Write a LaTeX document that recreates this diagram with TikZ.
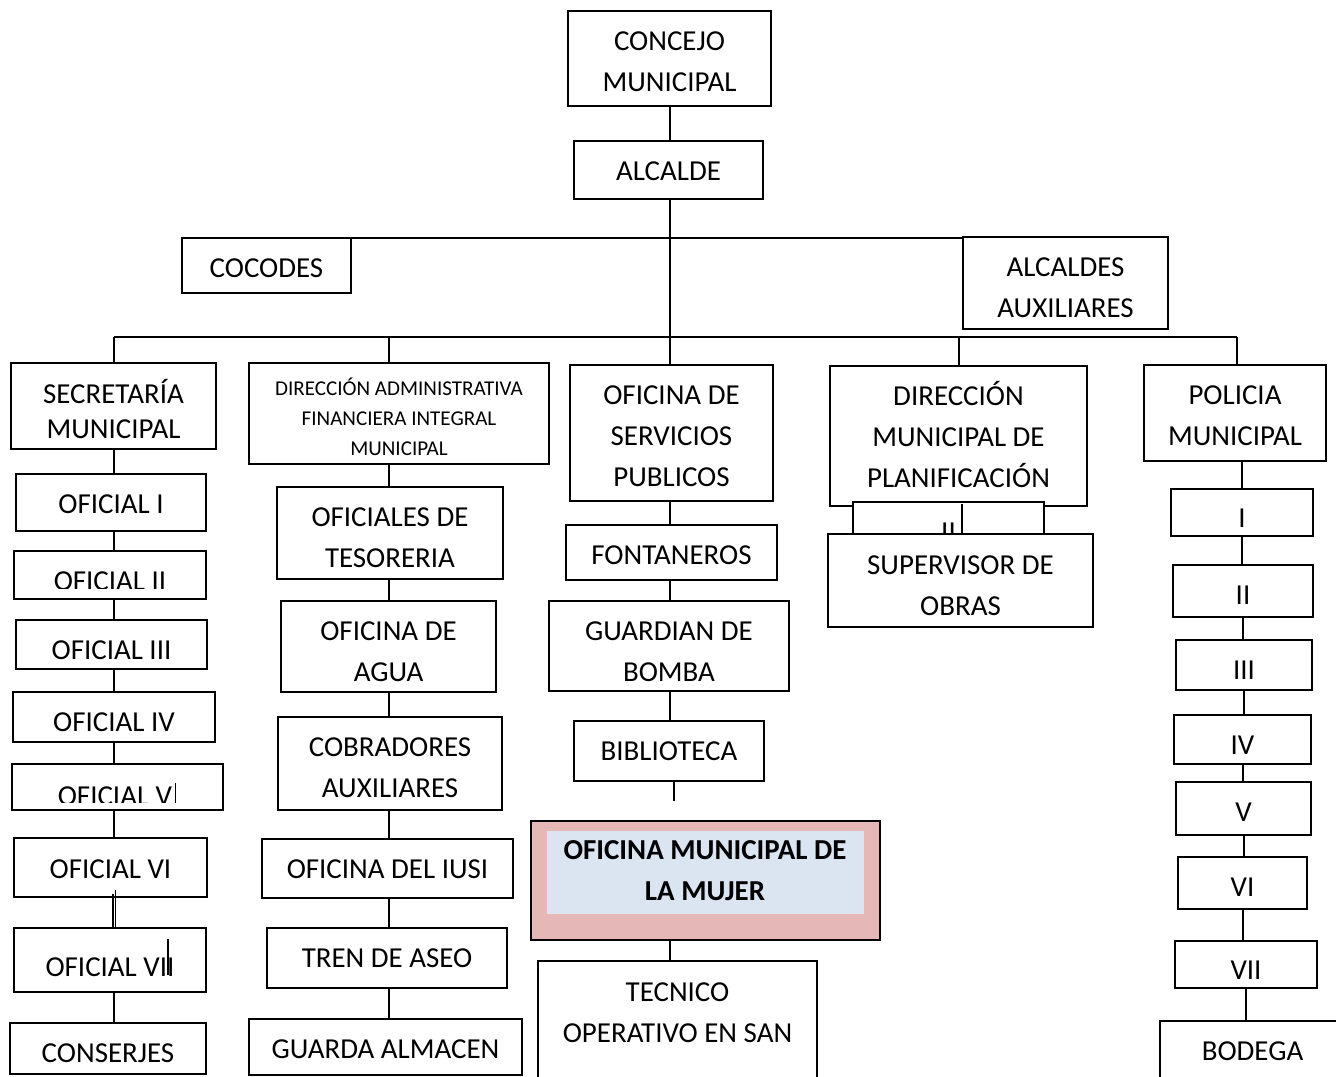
\documentclass[tikz,border=0pt]{standalone}
\usepackage{fontspec}
\setmainfont{Carlito}
\definecolor{pinkc}{HTML}{E5B8B7}
\definecolor{bluec}{HTML}{DBE5F1}
\newcommand\bx[8][]{%
  \node[box,#1,minimum width={(#5-#3)*0.75pt},minimum height={(#6-#4)*0.75pt}] (#2) at ({(#3+#5)/2},{(#4+#6)/2}) {};
  \node[txt] (#2-t) at ({(#3+#5)/2},#7) {#8};}
\begin{document}
\begin{tikzpicture}[x=0.75pt,y=-0.75pt,
  box/.style={draw=black,line width=1.5pt,fill=white,inner sep=0pt,outer sep=0pt,rectangle},
  txt/.style={inner sep=0pt,outer sep=0pt,align=center,font=\fontsize{21.7}{30.75}\selectfont},
  smalltxt/.style={inner sep=0pt,outer sep=0pt,align=center,font=\fontsize{15.8}{22.5}\selectfont},
  boldtxt/.style={inner sep=0pt,outer sep=0pt,align=center,font=\fontsize{21.7}{30.75}\selectfont\bfseries},
  conn/.style={line width=1.5pt},
  artifact/.style={line width=0.8pt}]
\useasboundingbox (0,0) rectangle (1336,1077);
\fill[white] (0,0) rectangle (1336,1077);
\clip (0,0) rectangle (1336,1077);

% top
\bx{concejo}{568}{11}{771}{106}{61.5}{CONCEJO\\MUNICIPAL}
\bx{alcalde}{574}{141}{763}{199}{171}{ALCALDE}
\bx{cocodes}{182}{238}{351}{293}{268}{COCODES}
\bx{auxil}{963}{237}{1168}{329}{287.5}{ALCALDES\\AUXILIARES}

\coordinate (hub) at (670,337);
\coordinate (tl) at (113.5,337);
\coordinate (tr) at (1237,337);

% second level
\bx{sec}{11}{363}{216}{449}{409}{SECRETARÍA\\[-4.5pt]MUNICIPAL}
\bx{dafim}{249}{363}{549}{464}{417}{}
\node[smalltxt] (dafim-s) at (399,417) {DIRECCIÓN ADMINISTRATIVA\\FINANCIERA INTEGRAL\\MUNICIPAL};
\bx{srv}{570}{365}{773}{501}{436.5}{OFICINA DE\\SERVICIOS\\PUBLICOS}
\bx{dmp}{830}{366}{1087}{506}{435}{DIRECCIÓN\\MUNICIPAL DE\\PLANIFICACIÓN}
\bx{pol}{1144}{365}{1326}{461}{415.5}{POLICIA\\MUNICIPAL}

% left column
\bx{o1}{16}{474}{206}{531}{504}{OFICIAL I}
\bx{o2}{14}{551}{206}{599}{581.5}{}
\begin{scope}
  \clip (0,540) rectangle (300,588);
  \node[txt] (o2-s) at (110,581.5) {OFICIAL II};
\end{scope}
\bx{o3}{16}{620}{207}{669}{650}{OFICIAL III}
\bx{o4}{13}{692}{215}{742}{722}{OFICIAL IV}
\bx{o5}{12}{764}{223}{810}{796.5}{}
\begin{scope}
  \clip (0,760) rectangle (300,802);
  \node[txt] (o5-s) at (115,796.5) {OFICIAL V};
\end{scope}
\draw[artifact] (175.5,783) -- (175.5,803);
\bx{o6}{14}{838}{207}{897}{869}{OFICIAL VI}
\bx{o7}{14}{928}{206}{992}{967}{OFICIAL VII}
\draw[artifact] (168,939) -- (168,975);
\bx{cons}{10}{1023}{206}{1074}{1053}{CONSERJES}

% second column
\bx{tes}{277}{487}{503}{579}{537.5}{OFICIALES DE\\TESORERIA}
\bx{agua}{281}{601}{496}{692}{651.5}{OFICINA DE\\AGUA}
\bx{cob}{278}{717}{502}{810}{768}{COBRADORES\\AUXILIARES}
\bx{iusi}{262}{839}{513}{898}{869}{OFICINA DEL IUSI}
\bx{tren}{267}{928}{507}{988}{958}{TREN DE ASEO}
\bx{guarda}{249}{1019}{522}{1075}{1049}{GUARDA ALMACEN}

% third column
\bx{font}{566}{525}{777}{580}{555}{FONTANEROS}
\bx{guard}{549}{601}{789}{691}{651.5}{GUARDIAN DE\\BOMBA}
\bx{bib}{574}{721}{764}{781}{751}{BIBLIOTECA}
\bx[fill=pinkc]{mujer}{531}{821}{880}{940}{871}{}
\fill[bluec] (547,831) rectangle (864,914);
\node[boldtxt] (mujer-s) at (705,871) {OFICINA MUNICIPAL DE\\LA MUJER};
\bx{tec}{538}{961}{817}{1100}{1012.5}{TECNICO\\OPERATIVO EN SAN}

% planning column
\bx{iib}{853}{502}{1044}{540}{532.5}{II}
\draw[conn] (iib.north -| 962,0) ++(0,2) -- (962,534);
\bx{sup}{828}{534}{1093}{627}{585.5}{SUPERVISOR DE\\OBRAS}

% police column
\bx{p1}{1171}{489}{1313}{536}{518}{I}
\bx{p2}{1173}{565}{1313}{617}{595}{II}
\bx{p3}{1176}{640}{1312}{690}{670}{III}
\bx{p4}{1174}{715}{1311}{764}{745}{IV}
\bx{p5}{1176}{782}{1311}{835}{812}{V}
\bx{p6}{1178}{857}{1307}{909}{887}{VI}
\bx{p7}{1175}{941}{1317}{988}{970}{VII}
\bx{bod}{1160}{1021}{1345}{1080}{1051}{BODEGA}

% connectors
\draw[conn] (concejo.south) -- (concejo.south |- alcalde.north);
\draw[conn] (hub |- alcalde.south) -- (hub);
\draw[conn] (cocodes.north east) -- (cocodes.north east -| auxil.west);
\draw[conn] (tl) -- (tr);
\draw[conn] (tl) -- (sec.north);
\draw[conn] (hub -| agua.north) -- (agua.north |- dafim.north);
\draw[conn] (hub) -- (hub |- srv.north);
\draw[conn] (hub -| dmp.north) -- (dmp.north);
\draw[conn] (tr) -- (tr |- pol.north);

\foreach \a/\b in {sec/o1,o1/o2,o2/o3,o3/o4,o4/o5,o5/o6,o7/cons}
  \draw[conn] (sec.south |- \a.south) -- (sec.south |- \b.north);
\draw[line width=1pt] ([xshift=-0.4pt]sec.south |- o6.south) ++(0,-3) -- ([xshift=-0.4pt]sec.south |- o7.north);
\draw[line width=1pt] ([xshift=1.3pt]sec.south |- o6.south) ++(0,-7) -- ([xshift=1.3pt]sec.south |- o7.north);

\foreach \a/\b in {dafim/tes,tes/agua,agua/cob,cob/iusi,iusi/tren,tren/guarda}
  \draw[conn] (agua.north |- \a.south) -- (agua.north |- \b.north);

\foreach \a/\b in {srv/font,font/guard,guard/bib}
  \draw[conn] (hub |- \a.south) -- (hub |- \b.north);
\coordinate (stub) at (674,801);
\draw[conn] (stub |- bib.south) -- (stub);
\draw[conn] (hub |- mujer.south) -- (hub |- tec.north);

\draw[conn] (p1.north |- pol.south) -- (p1.north);
\foreach \a/\b in {p1/p2,p2/p3,p3/p4,p4/p5,p5/p6,p6/p7,p7/bod}
  \draw[conn] (\a.south) -- (\a.south |- \b.north);
\end{tikzpicture}
\end{document}
